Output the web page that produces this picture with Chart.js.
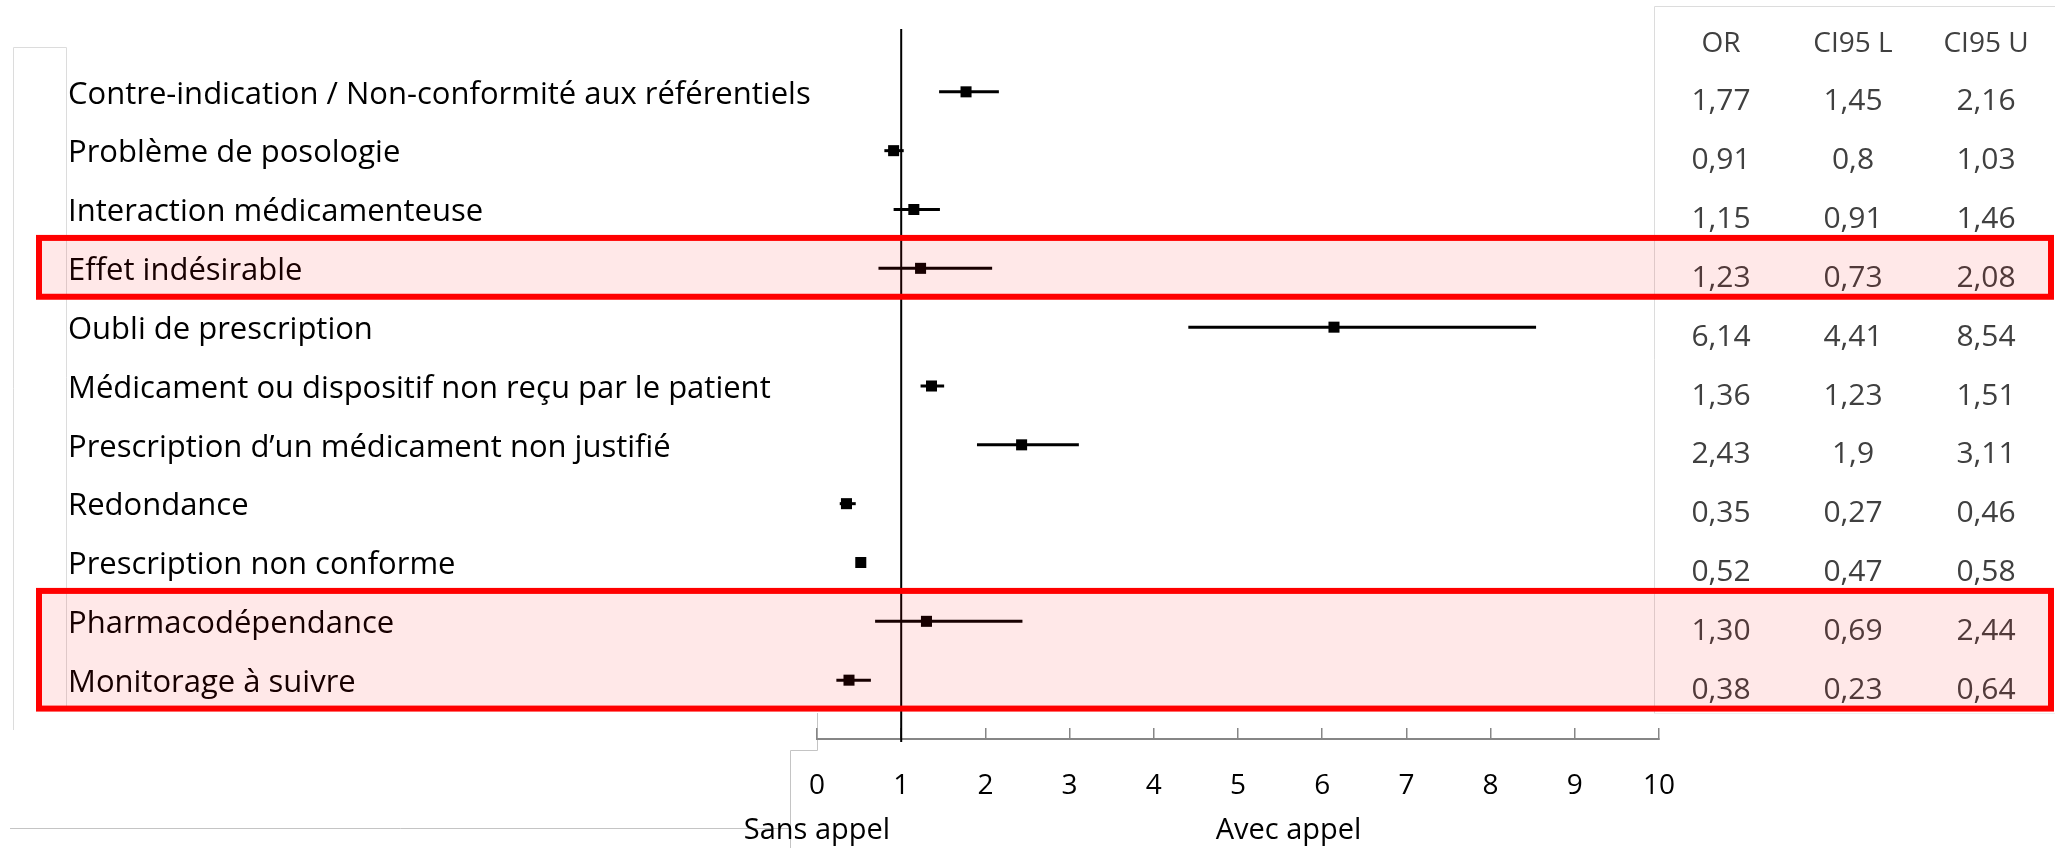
<!DOCTYPE html>
<html>
<head>
<meta charset="utf-8">
<script src="https://cdn.jsdelivr.net/npm/chart.js@4.4.0/dist/chart.umd.min.js"></script>
<style>
  html, body { margin: 0; padding: 0; background: #fff; }
</style>
</head>
<body>
<canvas id="forest" width="2055" height="848"></canvas>
<script>
// rows, top to bottom
const rowLabels = [
    'Contre-indication / Non-conformité aux référentiels',
    'Problème de posologie',
    'Interaction médicamenteuse',
    'Effet indésirable',
    'Oubli de prescription',
    'Médicament ou dispositif non reçu par le patient',
    'Prescription d’un médicament non justifié',
    'Redondance',
    'Prescription non conforme',
    'Pharmacodépendance',
    'Monitorage à suivre'
];
const orText   = ['1,77', '0,91', '1,15', '1,23', '6,14', '1,36', '2,43', '0,35', '0,52', '1,30', '0,38'];
const lowText  = ['1,45', '0,8',  '0,91', '0,73', '4,41', '1,23', '1,9',  '0,27', '0,47', '0,69', '0,23'];
const highText = ['2,16', '1,03', '1,46', '2,08', '8,54', '1,51', '3,11', '0,46', '0,58', '2,44', '0,64'];
const tableHeaders = ['OR', 'CI95 L', 'CI95 U'];
const xTicks = [0, 1, 2, 3, 4, 5, 6, 7, 8, 9, 10];
const highlightedRows = [[4, 4], [10, 11]]; // first and last row of each red box
const sideLabels = ['Sans appel', 'Avec appel'];

const toNum = s => parseFloat(s.replace(',', '.'));
const orValues = orText.map(toNum);
const lowValues = lowText.map(toNum);
const highValues = highText.map(toNum);

const FONT = '"Open Sans", Lato, sans-serif';
const LABEL_NUDGE = 0.05; // Open Sans sits a bit high with a middle baseline

// error bars, one small line per row
const ciDatasets = rowLabels.map((_, i) => ({
    type: 'line',
    data: [{ x: lowValues[i], y: i + 1 }, { x: highValues[i], y: i + 1 }],
    borderColor: '#000',
    borderWidth: 3,
    pointRadius: 0,
    showLine: true
}));

// table, side labels, frames and red boxes
const extrasPlugin = {
    id: 'extras',
    beforeDraw(chart) {
        const ctx = chart.ctx;
        ctx.save();
        ctx.lineWidth = 1;
        ctx.strokeStyle = '#dcdcdc';
        ctx.beginPath();
        ctx.moveTo(13.5, 730); ctx.lineTo(13.5, 47.5); ctx.lineTo(66.5, 47.5); ctx.lineTo(66.5, 707);
        ctx.moveTo(1654.5, 713); ctx.lineTo(1654.5, 6.5); ctx.lineTo(2055, 6.5);
        ctx.stroke();
        ctx.strokeStyle = '#c4c4c4';
        ctx.beginPath();
        ctx.moveTo(10, 828.5); ctx.lineTo(790.5, 828.5);
        ctx.moveTo(790.5, 848); ctx.lineTo(790.5, 750.5); ctx.lineTo(817.5, 750.5); ctx.lineTo(817.5, 713);
        ctx.stroke();
        ctx.strokeStyle = '#efefef';
        ctx.beginPath();
        ctx.moveTo(1654, 713.5); ctx.lineTo(2055, 713.5);
        ctx.stroke();
        ctx.restore();
    },
    afterDraw(chart) {
        const ctx = chart.ctx;
        const y = chart.scales.y;
        const x = chart.scales.x;
        const cols = [1721, 1853, 1986];
        ctx.save();
        ctx.textAlign = 'center';
        ctx.textBaseline = 'middle';
        ctx.fillStyle = '#404040';
        ctx.font = '28px ' + FONT;
        tableHeaders.forEach((h, c) => ctx.fillText(h, cols[c], 44));
        ctx.font = '30px ' + FONT;
        rowLabels.forEach((_, i) => {
            const py = y.getPixelForValue(i + 1) + 10;
            ctx.fillText(orText[i], cols[0], py);
            ctx.fillText(lowText[i], cols[1], py);
            ctx.fillText(highText[i], cols[2], py);
        });

        ctx.fillStyle = '#000';
        ctx.font = '29px ' + FONT;
        ctx.fillText(sideLabels[0], x.getPixelForValue(0), 831);
        ctx.fillText(sideLabels[1], x.getPixelForValue(5.6), 831);

        highlightedRows.forEach(([a, b]) => {
            const top = y.getPixelForValue(a - 0.5) - 1;
            const bottom = y.getPixelForValue(b + 0.5) - 1;
            ctx.fillStyle = 'rgba(255, 0, 0, 0.09)';
            ctx.fillRect(39, top, 2012, bottom - top);
            ctx.strokeStyle = '#ff0000';
            ctx.lineWidth = 6;
            ctx.strokeRect(39, top, 2012, bottom - top);
        });
        ctx.restore();
    }
};

new Chart(document.getElementById('forest'), {
    type: 'scatter',
    data: {
        datasets: [
            {
                data: orValues.map((v, i) => ({ x: v, y: i + 1 })),
                pointStyle: 'rect',
                pointRadius: 7.8,
                backgroundColor: '#000',
                borderWidth: 0
            },
            ...ciDatasets,
            {
                type: 'line',
                data: [{ x: 1, y: -0.07 }, { x: 1, y: 12.05 }],
                borderColor: '#000',
                borderWidth: 2,
                pointRadius: 0,
                showLine: true,
                clip: false
            }
        ]
    },
    options: {
        responsive: false,
        animation: false,
        devicePixelRatio: 1,
        layout: { padding: { left: 68, right: 396, top: 33, bottom: 0 } },
        plugins: { legend: { display: false }, tooltip: { enabled: false } },
        scales: {
            x: {
                type: 'linear',
                min: 0,
                max: 10,
                afterBuildTicks: scale => { scale.ticks = xTicks.map(v => ({ value: v })); },
                afterFit: scale => { scale.height = 109; },
                border: { display: true, color: '#868686', width: 2 },
                grid: {
                    display: true,
                    drawOnChartArea: false,
                    drawTicks: true,
                    tickLength: -11,
                    color: '#868686',
                    lineWidth: 1.5
                },
                ticks: {
                    color: '#000',
                    font: { family: FONT, size: 28 },
                    padding: 41,
                    maxRotation: 0
                }
            },
            y: {
                type: 'linear',
                reverse: true,
                min: 0,
                max: 12,
                afterBuildTicks: scale => {
                    scale.ticks = rowLabels.map((_, i) => ({ value: i + 1 + LABEL_NUDGE }));
                },
                afterFit: scale => { scale.width = 749; },
                border: { display: false },
                grid: { display: false },
                ticks: {
                    autoSkip: false,
                    crossAlign: 'far',
                    padding: 0,
                    color: '#000',
                    font: { family: FONT, size: 31 },
                    callback: v => rowLabels[Math.round(v) - 1] || ''
                }
            }
        }
    },
    plugins: [extrasPlugin]
});
</script>
</body>
</html>
